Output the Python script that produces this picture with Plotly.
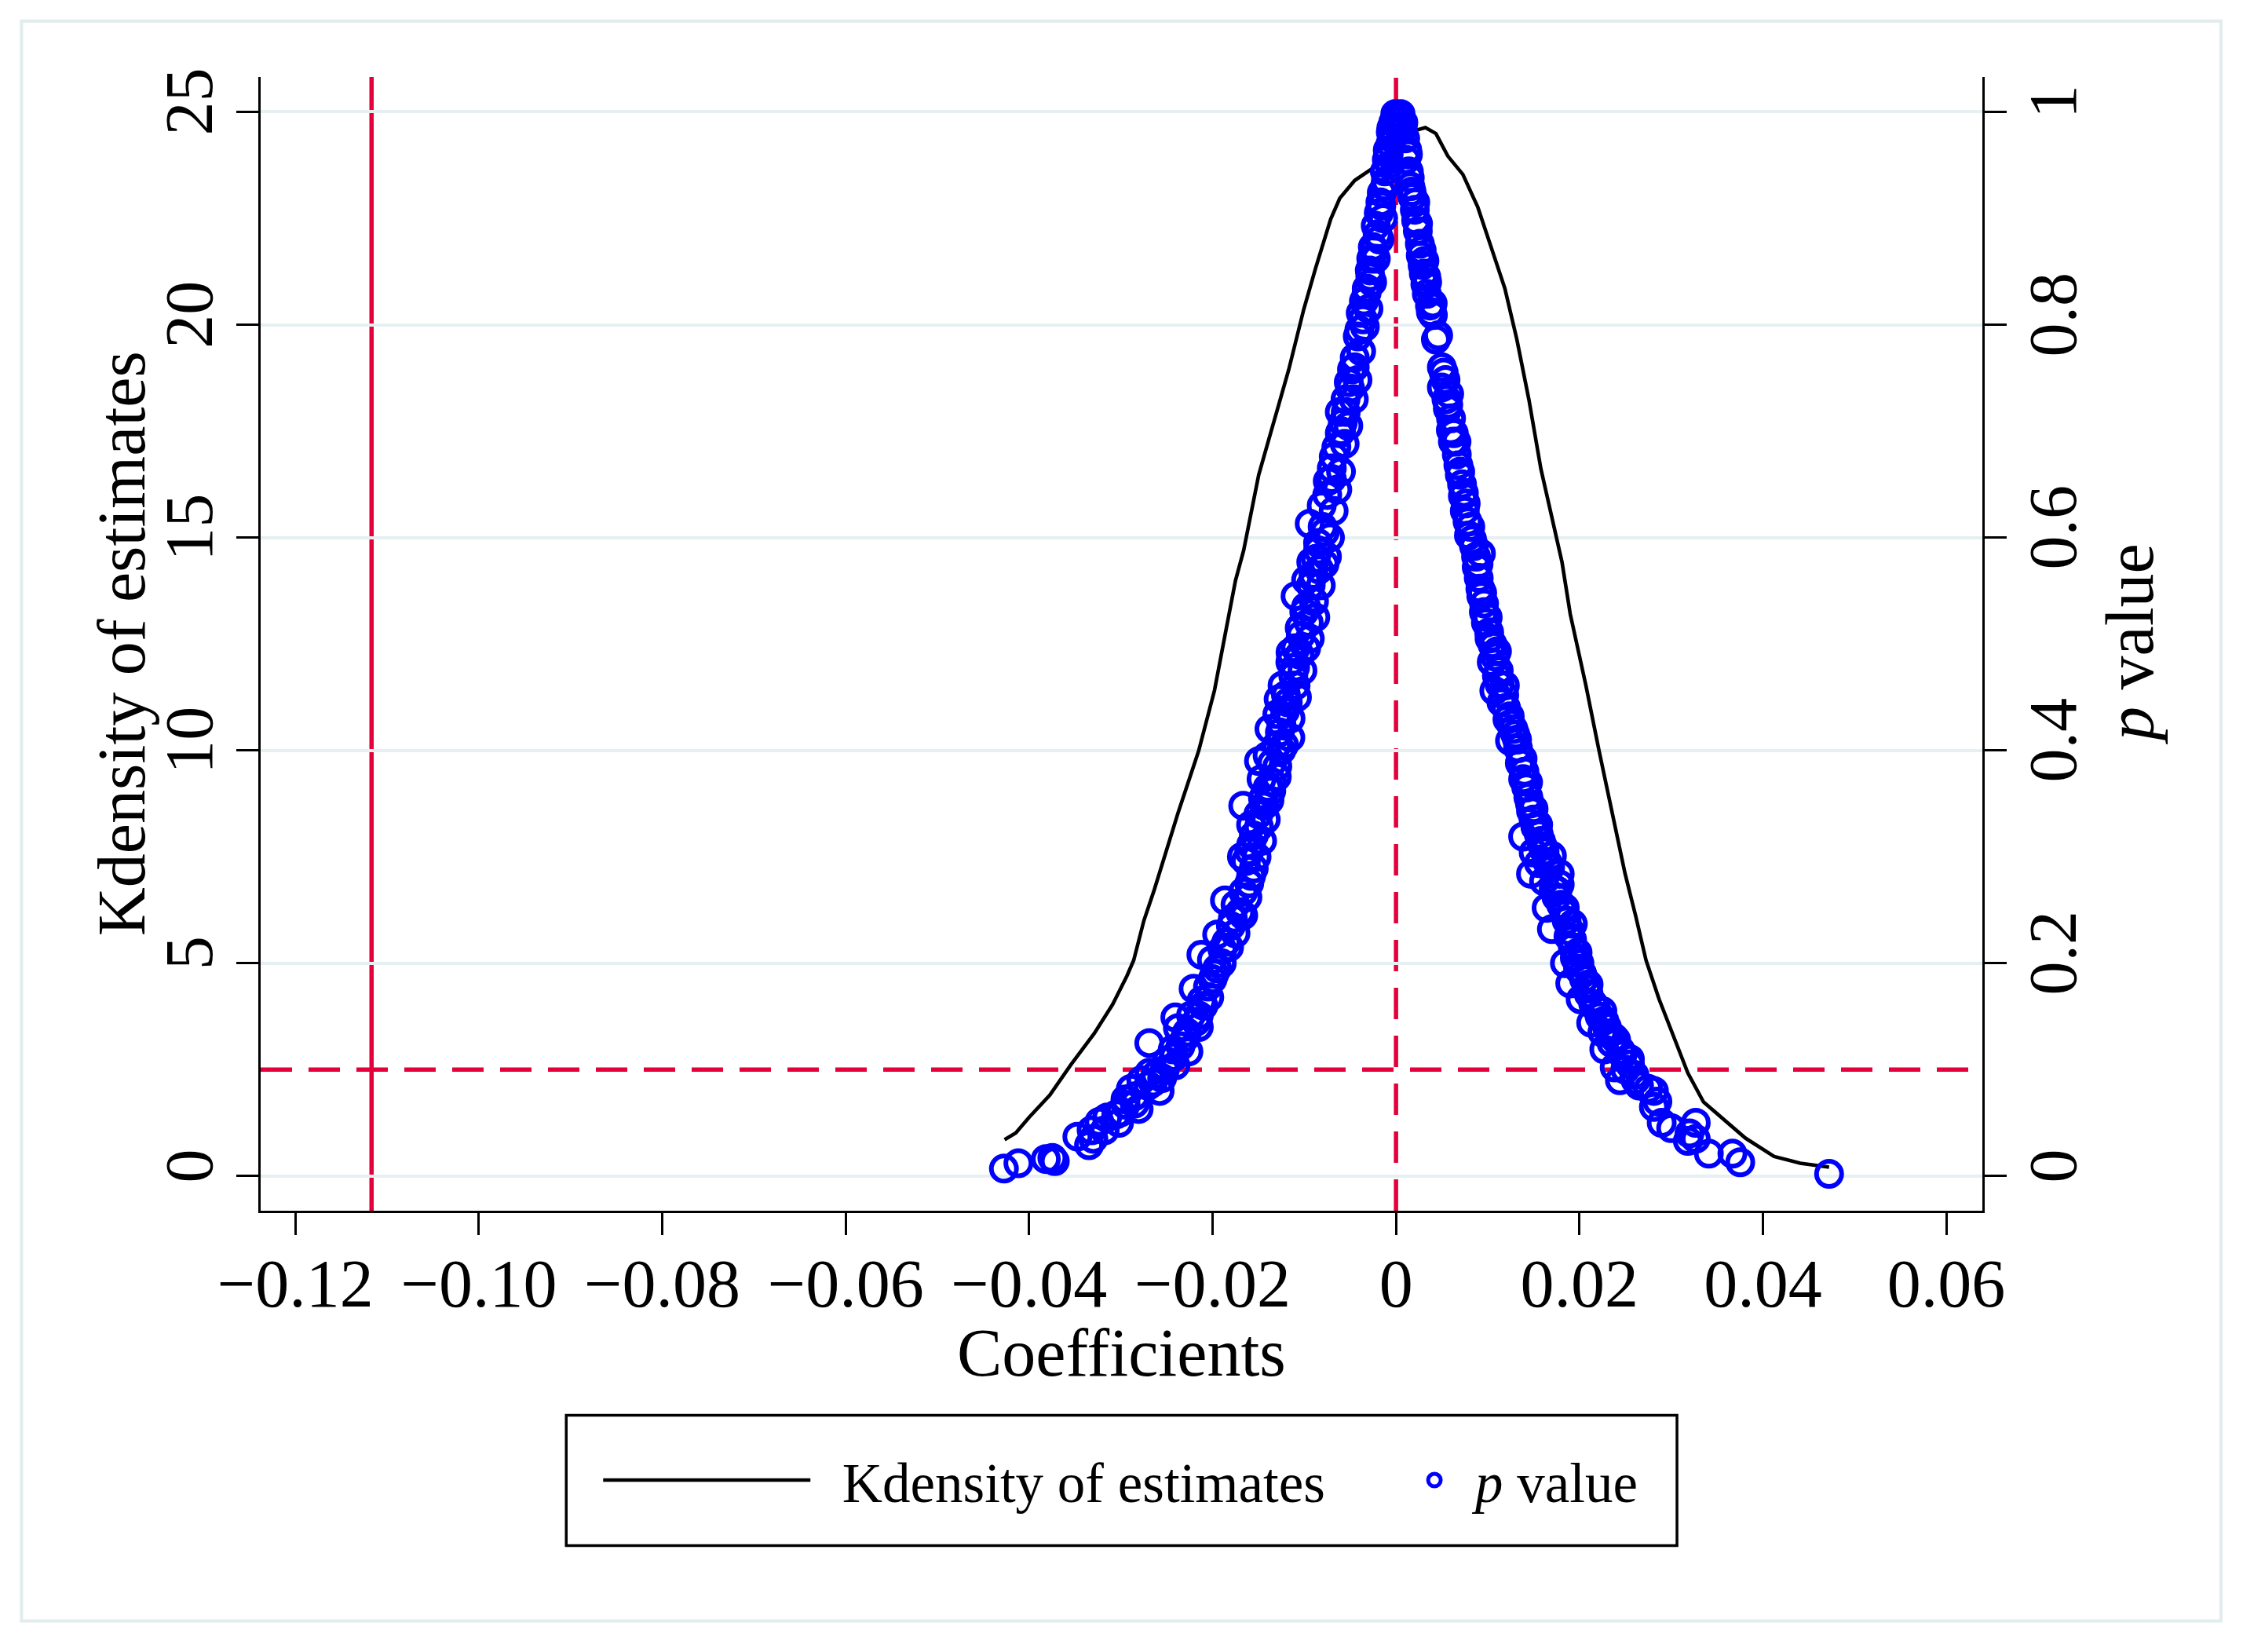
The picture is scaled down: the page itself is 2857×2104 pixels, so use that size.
import plotly.graph_objects as go

# ---- Kernel density of the estimates (coefficient, density) ----
kd_coef = [-0.04268, -0.04146, -0.0400, -0.03775, -0.03547, -0.0329, -0.0309, -0.02934,
           -0.0286, -0.02749, -0.02635, -0.02378, -0.0215, -0.01979, -0.01865, -0.0175,
           -0.01661, -0.01497, -0.01366, -0.0117, -0.01006, -0.00875, -0.00712, -0.00613,
           -0.0045, -0.00253, -0.0010, 0.0005, 0.0015, 0.00205, 0.0032, 0.00435, 0.00565,
           0.00729, 0.00892, 0.01056, 0.01187, 0.01318, 0.01449, 0.0158, 0.01711, 0.0181,
           0.019, 0.0207, 0.02213, 0.02355, 0.02498, 0.02612, 0.02726, 0.02869, 0.03069,
           0.03182, 0.03353, 0.03582, 0.0381, 0.04123, 0.04408, 0.04722]
kd_dens = [0.855, 1.01, 1.38, 1.90, 2.61, 3.35, 4.03, 4.70,
           5.07, 6.0, 6.73, 8.52, 10.0, 11.41, 12.70, 13.99,
           14.70, 16.47, 17.46, 18.94, 20.36, 21.34, 22.48, 22.97,
           23.39, 23.68, 23.9, 24.2, 24.5, 24.56, 24.63, 24.49, 23.96,
           23.53, 22.76, 21.70, 20.85, 19.65, 18.24, 16.61, 15.41, 14.42,
           13.2, 11.53, 10.0, 8.58, 7.10, 6.12, 5.07, 4.15, 3.04,
           2.42, 1.74, 1.31, 0.89, 0.46, 0.30, 0.21]

# ---- p values of the individual estimates (negative-side branch) ----
pv_coef_left = [-0.04275, -0.04117, -0.03818, -0.03747, -0.03720, -0.03474, -0.03347, -0.03319,
                -0.03300, -0.03234, -0.03176, -0.03150, -0.03050, -0.03020, -0.03000, -0.02950,
                -0.02948, -0.02891, -0.02850, -0.02850, -0.02806, -0.02777, -0.02700, -0.02690,
                -0.02650, -0.02620, -0.02577, -0.02550, -0.02520, -0.02500, -0.02690, -0.02434,
                -0.02420, -0.02405, -0.02350, -0.02300, -0.02280, -0.02263, -0.02378, -0.02406,
                -0.02235, -0.02180, -0.02150, -0.02150, -0.02120, -0.02100, -0.02207, -0.02036,
                -0.02050, -0.02000, -0.01980, -0.01950, -0.01900, -0.02122, -0.02007, -0.01893,
                -0.01850, -0.01820, -0.01950, -0.01800, -0.01750, -0.01779, -0.01666, -0.01700,
                -0.01750, -0.01865, -0.01666, -0.01620, -0.01600, -0.01580, -0.01551, -0.01520,
                -0.01637, -0.01580, -0.01550, -0.01460, -0.01494, -0.01666, -0.01437, -0.01420,
                -0.01380, -0.01400, -0.01360, -0.01466, -0.01300, -0.01352, -0.01494, -0.01294,
                -0.01250, -0.01220, -0.01152, -0.01266, -0.01380, -0.01294, -0.01209, -0.01150,
                -0.01180, -0.01237, -0.01095, -0.01080, -0.01120, -0.01152, -0.01020, -0.01050,
                -0.01095, -0.00980, -0.01038, -0.00940, -0.00952, -0.00880, -0.01000, -0.00894,
                -0.01095, -0.00930, -0.00820, -0.00980, -0.00838, -0.00924, -0.00780, -0.00875,
                -0.00753, -0.00850, -0.00720, -0.00777, -0.00941, -0.00810, -0.00680, -0.00744,
                -0.00640, -0.00700, -0.00679, -0.00600, -0.00613, -0.00560, -0.00580, -0.00520,
                -0.00548, -0.00613, -0.00460, -0.00515, -0.00480, -0.00420, -0.00450, -0.00380,
                -0.00417, -0.00340, -0.00385, -0.00350, -0.00300, -0.00319, -0.00260, -0.00286,
                -0.00270, -0.00220, -0.00253, -0.00221, -0.00180, -0.00188, -0.00140, -0.00170,
                -0.00155, -0.00110, -0.00122, -0.00070, -0.00100, -0.00090, -0.00040, -0.00060,
                -0.00057, -0.00030, -0.00008, 0.00020, 0.00030,
                -0.01680, -0.01600, -0.01500, -0.01580, -0.01450, -0.01350, -0.01400, -0.01300,
                -0.01250, -0.01200, -0.01280, -0.01100, -0.01150, -0.01050, -0.00980, -0.00900,
                -0.00850, -0.00800, -0.00750, -0.00700, -0.00650, -0.00600, -0.00550, -0.00500,
                -0.00450, -0.00400, -0.00360, -0.00320, -0.00280, -0.00240, -0.00200, -0.00160,
                -0.00120, -0.00080, -0.00050, 0.00000, 0.00050]
pv_p_left = [0.007, 0.012, 0.016, 0.017, 0.014, 0.037, 0.029, 0.043,
             0.035, 0.051, 0.043, 0.055, 0.058, 0.050, 0.060, 0.072,
             0.067, 0.082, 0.075, 0.068, 0.063, 0.090, 0.085, 0.097,
             0.088, 0.095, 0.080, 0.092, 0.100, 0.108, 0.125, 0.119,
             0.112, 0.104, 0.122, 0.130, 0.135, 0.117, 0.139, 0.149,
             0.151, 0.145, 0.140, 0.151, 0.165, 0.160, 0.176, 0.168,
             0.178, 0.185, 0.190, 0.195, 0.200, 0.208, 0.203, 0.213,
             0.220, 0.215, 0.227, 0.235, 0.228, 0.242, 0.245, 0.248,
             0.255, 0.259, 0.267, 0.262, 0.275, 0.282, 0.289, 0.300,
             0.296, 0.311, 0.320, 0.315, 0.328, 0.348, 0.348, 0.335,
             0.353, 0.365, 0.362, 0.373, 0.375, 0.388, 0.390, 0.385,
             0.400, 0.405, 0.412, 0.417, 0.420, 0.434, 0.437, 0.430,
             0.445, 0.461, 0.461, 0.450, 0.470, 0.483, 0.475, 0.490,
             0.496, 0.496, 0.508, 0.505, 0.520, 0.525, 0.530, 0.540,
             0.545, 0.555, 0.555, 0.560, 0.570, 0.577, 0.575, 0.580,
             0.582, 0.595, 0.600, 0.605, 0.613, 0.630, 0.625, 0.653,
             0.645, 0.665, 0.676, 0.662, 0.698, 0.688, 0.708, 0.705,
             0.718, 0.718, 0.730, 0.746, 0.758, 0.748, 0.769, 0.775,
             0.789, 0.798, 0.811, 0.822, 0.815, 0.834, 0.840, 0.851,
             0.862, 0.862, 0.873, 0.893, 0.880, 0.905, 0.900, 0.915,
             0.924, 0.935, 0.944, 0.950, 0.955, 0.964, 0.975, 0.970,
             0.981, 0.990, 0.998, 0.995, 0.985,
             0.300, 0.305, 0.340, 0.330, 0.355, 0.370, 0.395, 0.405,
             0.425, 0.452, 0.448, 0.478, 0.492, 0.515, 0.535, 0.565,
             0.588, 0.610, 0.640, 0.655, 0.685, 0.700, 0.730, 0.740,
             0.760, 0.795, 0.805, 0.830, 0.845, 0.870, 0.885, 0.912,
             0.930, 0.960, 0.985, 0.992, 0.998]

# ---- p values of the individual estimates (positive-side branch) ----
pv_coef_right = [0.00050, 0.00074, 0.00100, 0.00110, 0.00123, 0.00140, 0.00150, 0.00156,
                 0.00180, 0.00205, 0.00210, 0.00220, 0.00238, 0.00260, 0.00270, 0.00290,
                 0.00310, 0.00303, 0.00320, 0.00340, 0.00336, 0.00370, 0.00400, 0.00402,
                 0.00435, 0.00460, 0.00500, 0.00500, 0.00540, 0.00550, 0.00580, 0.00565,
                 0.00598, 0.00600, 0.00620, 0.00663, 0.00660, 0.00680, 0.00696, 0.00720,
                 0.00729, 0.00750, 0.00760, 0.00780, 0.00795, 0.00810, 0.00850, 0.00926,
                 0.00873, 0.00880, 0.00902, 0.00920, 0.00930, 0.00958, 0.00960, 0.00980,
                 0.01016, 0.01020, 0.01050, 0.01101, 0.01080, 0.01044, 0.01100, 0.01130,
                 0.01187, 0.01072, 0.01150, 0.01200, 0.01215, 0.01280, 0.01250, 0.01243,
                 0.01330, 0.01320, 0.01350, 0.01386, 0.01400, 0.01420, 0.01443, 0.01460,
                 0.01472, 0.01500, 0.01520, 0.01557, 0.01580, 0.01386, 0.01600, 0.01501,
                 0.01650, 0.01700, 0.01557, 0.01472, 0.01785, 0.01614, 0.01720, 0.01785,
                 0.01750, 0.01642, 0.01800, 0.01842, 0.01860, 0.01928, 0.01700, 0.01920,
                 0.01880, 0.01928, 0.01980, 0.01950, 0.01842, 0.01985, 0.02030, 0.02050,
                 0.01900, 0.02080, 0.02100, 0.02013, 0.02150, 0.02180, 0.02220, 0.02271,
                 0.02128, 0.02300, 0.02250, 0.02327, 0.02380, 0.02350, 0.02271, 0.02450,
                 0.02470, 0.02384, 0.02550, 0.02500, 0.02441, 0.02600, 0.02612, 0.02650,
                 0.02750, 0.02812, 0.02850, 0.02812, 0.02897, 0.03000, 0.03268, 0.03200,
                 0.03182, 0.03268, 0.03411, 0.03668, 0.03753, 0.04722,
                 0.00080, 0.00130, 0.00170, 0.00240, 0.00280, 0.00330, 0.00380, 0.00520,
                 0.00570, 0.00630, 0.00700, 0.00740, 0.00830, 0.00900, 0.00940, 0.01000,
                 0.01060, 0.01120, 0.01180, 0.01240, 0.01300, 0.01380, 0.01440, 0.01500,
                 0.01550, 0.01620, 0.01680, 0.01760, 0.01840, 0.01900, 0.02000, 0.02100,
                 0.02250, 0.02400, 0.02550]
pv_p_right = [0.992, 0.984, 0.975, 0.955, 0.964, 0.944, 0.938, 0.930,
              0.920, 0.908, 0.915, 0.898, 0.888, 0.876, 0.865, 0.856,
              0.860, 0.848, 0.838, 0.840, 0.829, 0.818, 0.820, 0.809,
              0.786, 0.790, 0.760, 0.741, 0.748, 0.730, 0.735, 0.721,
              0.701, 0.712, 0.690, 0.678, 0.690, 0.668, 0.659, 0.650,
              0.639, 0.625, 0.632, 0.615, 0.602, 0.610, 0.592, 0.585,
              0.582, 0.572, 0.562, 0.552, 0.545, 0.530, 0.538, 0.520,
              0.511, 0.505, 0.500, 0.493, 0.488, 0.483, 0.470, 0.462,
              0.461, 0.456, 0.445, 0.440, 0.429, 0.420, 0.425, 0.409,
              0.402, 0.410, 0.388, 0.373, 0.380, 0.365, 0.356, 0.350,
              0.343, 0.335, 0.328, 0.321, 0.315, 0.319, 0.310, 0.304,
              0.295, 0.301, 0.294, 0.284, 0.284, 0.277, 0.270, 0.274,
              0.262, 0.252, 0.255, 0.247, 0.240, 0.237, 0.232, 0.222,
              0.225, 0.215, 0.210, 0.205, 0.200, 0.195, 0.190, 0.185,
              0.181, 0.176, 0.171, 0.166, 0.162, 0.158, 0.150, 0.146,
              0.144, 0.140, 0.135, 0.134, 0.130, 0.125, 0.119, 0.118,
              0.114, 0.102, 0.105, 0.100, 0.090, 0.095, 0.090, 0.085,
              0.082, 0.080, 0.070, 0.065, 0.050, 0.045, 0.050, 0.040,
              0.033, 0.035, 0.021, 0.021, 0.013, 0.002,
              0.990, 0.960, 0.925, 0.895, 0.870, 0.845, 0.812, 0.755,
              0.725, 0.698, 0.662, 0.642, 0.598, 0.575, 0.548, 0.525,
              0.498, 0.475, 0.452, 0.432, 0.415, 0.392, 0.370, 0.345,
              0.330, 0.305, 0.290, 0.268, 0.252, 0.230, 0.200, 0.180,
              0.155, 0.128, 0.110]

pv_coef = pv_coef_left + pv_coef_right
pv_p = pv_p_left + pv_p_right

# ---- axes ----
x_tickvals = [-0.12, -0.10, -0.08, -0.06, -0.04, -0.02, 0, 0.02, 0.04, 0.06]
x_ticktext = ["\u22120.12", "\u22120.10", "\u22120.08", "\u22120.06", "\u22120.04",
              "\u22120.02", "0", "0.02", "0.04", "0.06"]
y_tickvals = [0, 5, 10, 15, 20, 25]
y_ticktext = ["0", "5", "10", "15", "20", "25"]
y2_tickvals = [0, 0.2, 0.4, 0.6, 0.8, 1]
y2_ticktext = ["0", "0.2", "0.4", "0.6", "0.8", "1"]

x_range = [-0.12379, 0.06393]
y_range = [-0.815, 25.82]
y2_range = [-0.0326, 1.0328]

# ---- reference lines ----
benchmark_coef = -0.1117   # solid red vertical line
zero_coef = 0.0            # dashed red vertical line
p_threshold = 0.1          # dashed red horizontal line (p value axis)

FONT = "Liberation Serif"
FS = 86
RED = "#e4003b"
BLUE = "#0000ff"
GRID = "#e6eff1"

fig = go.Figure()
fig.add_trace(go.Scatter(
    x=kd_coef, y=kd_dens, mode="lines", name="\u00a0\u00a0Kdensity of estimates",
    line=dict(color="black", width=4.6), yaxis="y", legend="legend"))
fig.add_trace(go.Scatter(
    x=pv_coef, y=pv_p, mode="markers", name="<i>p</i> value",
    marker=dict(symbol="circle-open", size=32, color=BLUE, line=dict(color=BLUE, width=6)),
    yaxis="y2", legend="legend2"))

axis_common = dict(ticks="outside", ticklen=28, tickwidth=3, tickcolor="black",
                   showline=True, linecolor="black", linewidth=3, zeroline=False,
                   tickfont=dict(family=FONT, size=FS, color="black"))

fig.update_layout(
    width=2857, height=2104,
    margin=dict(l=324, r=340, t=90, b=570, autoexpand=False),
    paper_bgcolor="white", plot_bgcolor="white",
    font=dict(family=FONT, size=FS, color="black"),
    xaxis=dict(range=x_range, tickvals=x_tickvals, ticktext=x_ticktext,
               showgrid=False, ticklabelstandoff=-12, **axis_common),
    yaxis=dict(range=y_range, tickvals=y_tickvals, ticktext=y_ticktext,
               showgrid=True, gridcolor=GRID, gridwidth=4, tickangle=-90,
               ticklabelstandoff=-3, **axis_common),
    yaxis2=dict(range=y2_range, tickvals=y2_tickvals, ticktext=y2_ticktext,
                overlaying="y", side="right", showgrid=False, tickangle=-90,
                ticklabelstandoff=-15, **axis_common),
    legend=dict(x=0.19665, y=-0.2378, xanchor="left", yanchor="middle", orientation="h",
                bgcolor="rgba(0,0,0,0)", borderwidth=0, itemwidth=264,
                font=dict(family=FONT, size=71, color="black")),
    legend2=dict(x=0.65805, y=-0.2378, xanchor="left", yanchor="middle", orientation="h",
                 bgcolor="rgba(0,0,0,0)", borderwidth=0, itemwidth=94,
                 font=dict(family=FONT, size=71, color="black")),
    showlegend=True,
    annotations=[
        dict(text="Coefficients", xref="paper", yref="paper", x=0.5, y=-0.1255,
             xanchor="center", yanchor="middle", showarrow=False,
             font=dict(family=FONT, size=FS, color="black")),
        dict(text="Kdensity of estimates", xref="paper", yref="paper", x=-0.0806, y=0.5,
             xanchor="center", yanchor="middle", textangle=-90, showarrow=False,
             font=dict(family=FONT, size=FS, color="black")),
        dict(text="<i>p</i> value", xref="paper", yref="paper", x=1.0857, y=0.5,
             xanchor="center", yanchor="middle", textangle=-90, showarrow=False,
             font=dict(family=FONT, size=FS, color="black")),
    ],
)

# reference lines
fig.add_shape(type="line", xref="x", yref="paper", x0=benchmark_coef, x1=benchmark_coef,
              y0=0, y1=1, line=dict(color=RED, width=5.5), layer="between")
fig.add_shape(type="line", xref="x", yref="paper", x0=zero_coef, x1=zero_coef,
              y0=0, y1=1, line=dict(color=RED, width=5.5, dash="40px,21px"), layer="between")
fig.add_shape(type="line", xref="paper", yref="y2", x0=0, x1=1,
              y0=p_threshold, y1=p_threshold, line=dict(color=RED, width=5.5, dash="40px,21px"),
              layer="between")

# legend frame and outer graph-region frame
fig.add_shape(type="rect", xref="paper", yref="paper", x0=0.17750, x1=0.82264,
              y0=-0.29535, y1=-0.18034, line=dict(color="black", width=3.5))
fig.add_shape(type="rect", xref="paper", yref="paper", x0=-0.1389, x1=1.1386,
              y0=-0.3619, y1=1.0494, line=dict(color="#e2ecec", width=4), layer="below")

fig.write_html("out.html")
